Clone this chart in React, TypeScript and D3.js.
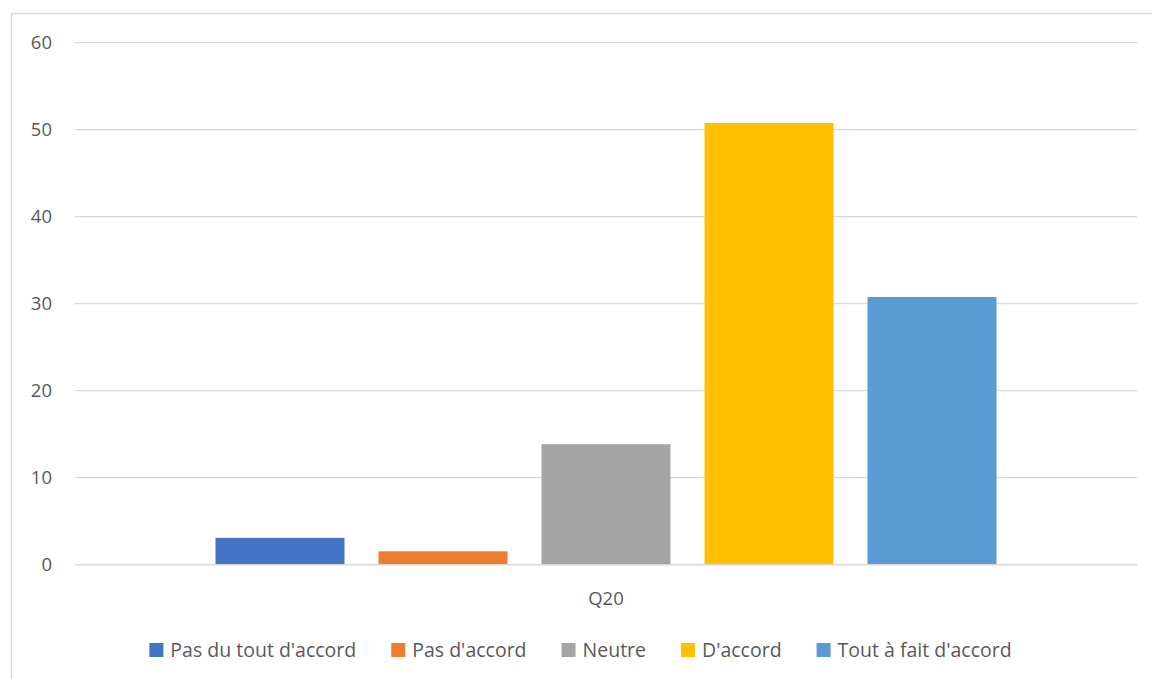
import React, { useEffect, useRef } from "react";
import * as d3 from "d3";

const categories = ["Q20"];
const seriesNames = ["Pas du tout d'accord", "Pas d'accord", "Neutre", "D'accord", "Tout à fait d'accord"];
const seriesValues = [3.08, 1.54, 13.85, 50.77, 30.77];
const seriesColors = ["#4472C4", "#ED7D31", "#A5A5A5", "#FFC000", "#5B9BD5"];
const yTicks = [0, 10, 20, 30, 40, 50, 60];

const W = 1152;
const H = 679;
const FONT = "'Open Sans', 'Liberation Sans', sans-serif";

export default function App() {
  const ref = useRef<SVGSVGElement>(null);

  useEffect(() => {
    const svg = d3.select(ref.current);
    svg.selectAll("*").remove();

    svg.append("rect").attr("x", 0).attr("y", 0).attr("width", W).attr("height", H).attr("fill", "#fff");
    svg.append("rect")
      .attr("x", 11.5).attr("y", 13.5).attr("width", 1200).attr("height", 700)
      .attr("fill", "none").attr("stroke", "#d9d9d9").attr("stroke-width", 1.5);

    const left = 75, right = 1137, top = 42.7, bottom = 564.7;
    const y = d3.scaleLinear().domain([0, 60]).range([bottom, top]);
    const x0 = d3.scaleBand().domain(categories).range([left, right]).paddingInner(0).paddingOuter(0);
    const groupW = 781;
    const x1 = d3.scaleBand().domain(seriesNames).range([0, groupW]).paddingInner(34 / 163).paddingOuter(0);

    const grid = svg.append("g");
    yTicks.forEach((t) => {
      grid.append("line")
        .attr("x1", left).attr("x2", right).attr("y1", y(t)).attr("y2", y(t))
        .attr("stroke", "#d9d9d9").attr("stroke-width", 1.3);
      svg.append("text")
        .attr("x", 52).attr("y", y(t)).attr("dy", "0.35em")
        .attr("text-anchor", "end").attr("font-family", FONT).attr("font-size", 18.5)
        .attr("fill", "#595959").text(String(t));
    });

    categories.forEach((c) => {
      const cx = (x0(c) as number) + x0.bandwidth() / 2;
      const gx = cx - groupW / 2;
      seriesNames.forEach((s, i) => {
        svg.append("rect")
          .attr("x", gx + (x1(s) as number)).attr("width", x1.bandwidth())
          .attr("y", y(seriesValues[i])).attr("height", y(0) - y(seriesValues[i]))
          .attr("fill", seriesColors[i]);
      });
      svg.append("line")
        .attr("x1", left).attr("x2", right).attr("y1", y(0)).attr("y2", y(0))
        .attr("stroke", "#d9d9d9").attr("stroke-width", 1.5);
      svg.append("text")
        .attr("x", cx).attr("y", 599).attr("dy", "0.35em").attr("text-anchor", "middle")
        .attr("font-family", FONT).attr("font-size", 18.5).attr("fill", "#595959").text(c);
    });

    // legend
    const lg = svg.append("g");
    const items = seriesNames.map((s, i) => {
      const g = lg.append("g");
      g.append("rect").attr("x", 0).attr("y", -7).attr("width", 14).attr("height", 14).attr("fill", seriesColors[i]);
      const t = g.append("text").attr("x", 21).attr("y", 0).attr("dy", "0.35em")
        .attr("font-family", FONT).attr("font-size", 19.5).attr("fill", "#595959").text(s);
      const w = 21 + (t.node() as SVGTextElement).getComputedTextLength();
      return { g, w };
    });
    const gap = 35;
    const total = items.reduce((a, b) => a + b.w, 0) + gap * (items.length - 1);
    let xx = 580.5 - total / 2;
    items.forEach((it) => {
      it.g.attr("transform", `translate(${xx},650)`);
      xx += it.w + gap;
    });
  }, []);

  return (
    <svg ref={ref} width={W} height={H} style={{ position: "absolute", left: 0, top: 0 }} />
  );
}
